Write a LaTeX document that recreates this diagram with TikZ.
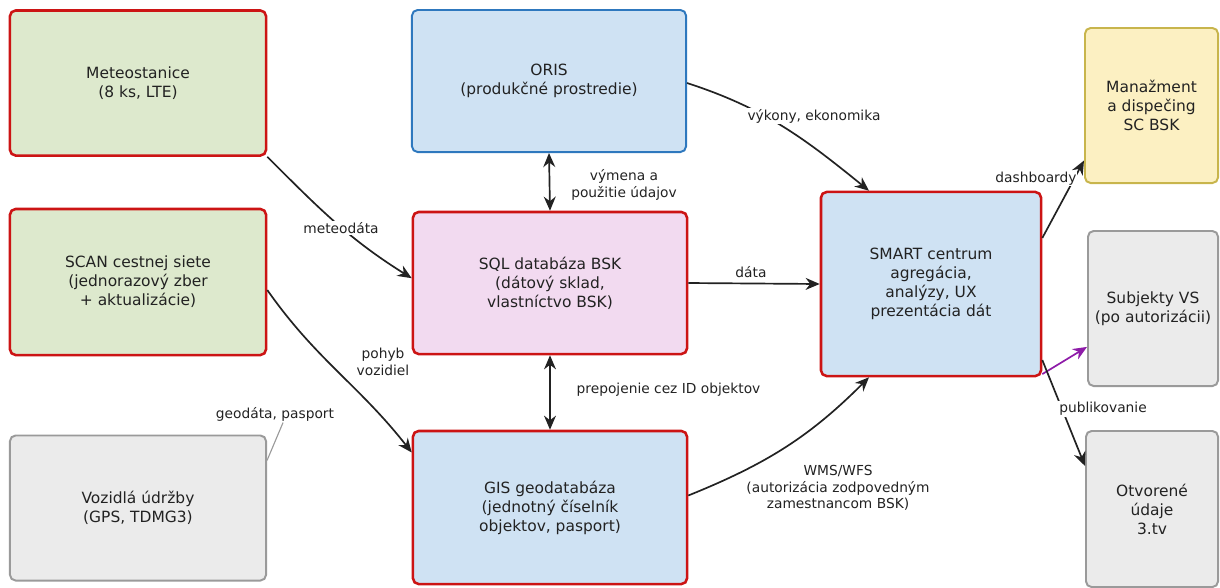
\documentclass[tikz,border=0pt]{standalone}
\usepackage{fontspec}
\setmainfont{DejaVu Sans}
\usetikzlibrary{arrows.meta}

\definecolor{boxred}{HTML}{CC1414}
\definecolor{orisblue}{HTML}{2E78BE}
\definecolor{greenfill}{HTML}{DDE9CD}
\definecolor{bluefill}{HTML}{CFE2F3}
\definecolor{pinkfill}{HTML}{F2DAF0}
\definecolor{yellowfill}{HTML}{FCF0C2}
\definecolor{yellowline}{HTML}{C8B54C}
\definecolor{greyfill}{HTML}{EBEBEB}
\definecolor{greyline}{HTML}{9A9A9A}
\definecolor{linedark}{HTML}{222222}
\definecolor{pubpurple}{HTML}{8E1BA8}

\begin{document}
\begin{tikzpicture}[x=0.025cm, y=-0.025cm,
	>={Stealth[length=10pt, width=8.5pt]},
	box/.style={draw, rounded corners=4pt, line width=1.8pt, align=center, text=linedark,
		font=\fontsize{11}{13.5}\selectfont},
	redbox/.style={box, draw=boxred},
	greybox/.style={box, draw=greyline, fill=greyfill, line width=1.4pt},
	lbl/.style={font=\fontsize{9.8}{11.8}\selectfont, text=linedark, align=center, inner sep=1pt},
	arr/.style={draw=linedark, line width=1.2pt}]
		%%%%% START %%%%%
		\useasboundingbox (0, 0) rectangle (1220, 587);
		
		% left column
		\node[redbox, fill=greenfill, minimum width=6.4cm, minimum height=3.625cm] (meteo) at (138, 83) {Meteostanice\\(8 ks, LTE)};
		\node[redbox, fill=greenfill, minimum width=6.4cm, minimum height=3.65cm] (scan) at (138, 282) {SCAN cestnej siete\\(jednorazový zber\\+ aktualizácie)};
		\node[greybox, minimum width=6.4cm, minimum height=3.625cm] (voz) at (138, 508) {Vozidlá údržby\\(GPS, TDMG3)};
		
		% middle column
		\node[box, draw=orisblue, fill=bluefill, line width=1.4pt, minimum width=6.85cm, minimum height=3.55cm] (oris) at (549, 81) {ORIS\\(produkčné prostredie)};
		\node[redbox, fill=pinkfill, minimum width=6.85cm, minimum height=3.55cm] (sql) at (550, 283) {SQL databáza BSK\\(dátový sklad,\\vlastníctvo BSK)};
		\node[redbox, fill=bluefill, minimum width=6.85cm, minimum height=3.825cm] (gis) at (550, 507.5) {GIS geodatabáza\\(jednotný číselník\\objektov, pasport)};
		
		% smart centre and outputs
		\node[redbox, fill=bluefill, minimum width=5.5cm, minimum height=4.6cm] (smart) at (931, 284) {SMART centrum\\agregácia,\\analýzy, UX\\prezentácia dát};
		\node[box, draw=yellowline, fill=yellowfill, line width=1.4pt, minimum width=3.325cm, minimum height=3.875cm] (man) at (1151.5, 105.5) {Manažment\\a dispečing\\SC BSK};
		\node[greybox, minimum width=3.25cm, minimum height=3.875cm] (subj) at (1153, 308.5) {Subjekty VS\\(po autorizácii)};
		\node[greybox, minimum width=3.3cm, minimum height=3.9cm] (otv) at (1152, 509) {Otvorené\\údaje\\3.tv};
		
		% connectors
		\draw[arr, ->] (meteo.south east) to[out=-45, in=148] ([yshift=0.12cm]sql.west);
		\draw[arr, ->] ([yshift=-0.2cm]scan.east) to[out=-55, in=128] ([yshift=1.375cm]gis.west);
		\draw[arr, <->] (oris.south) -- (sql.north);
		\draw[arr, <->] (sql.south) -- (gis.north);
		\draw[arr, ->] ([yshift=-0.05cm]oris.east) to[out=-18, in=141] ([xshift=-1.55cm]smart.north);
		\draw[arr, ->] (sql.east) -- (smart.west);
		\draw[arr, ->] ([yshift=0.3cm]gis.east) to[out=22, in=-135] ([xshift=-1.55cm]smart.south);
		\draw[arr, ->] ([yshift=1.15cm]smart.east) -- ([yshift=-1.375cm]man.west);
		\draw[line width=1.2pt, draw=pubpurple, ->] ([yshift=0.08cm]smart.south east) -- ([yshift=-0.96cm]subj.west);
		\draw[arr, ->] ([yshift=-1.9cm]smart.east) -- ([yshift=-0.9cm]otv.north west);
		
		% labels
		\node[lbl] (lgeo) at (275, 414) {geodáta, pasport};
		\draw[line width=0.8pt, draw=greyline] ([yshift=-0.65cm]voz.north east) -- ([xshift=0.2cm]lgeo.south);
		\node[lbl, fill=white] (lmeteo) at (341, 228) {meteodáta};
		\node[lbl] (lpohyb) at (383, 362) {pohyb\\vozidiel};
		\node[lbl] (lvymena) at (624, 185) {výmena a\\použitie údajov};
		\node[lbl, anchor=west] (lprepoj) at (575, 390) {prepojenie cez ID objektov};
		\node[lbl, fill=white] (lvykony) at (814, 116) {výkony, ekonomika};
		\node[lbl] (ldata) at (751, 272) {dáta};
		\node[lbl] (lwms) at (838, 488) {WMS/WFS\\(autorizácia zodpovedným\\zamestnancom BSK)};
		\node[lbl, fill=white, inner sep=0.5pt] (ldash) at (1036, 179) {dashboardy};
		\node[lbl, fill=white] (lpubl) at (1103, 409) {publikovanie};
		
		%%%%% END %%%%%
	\end{tikzpicture}
\end{document}
